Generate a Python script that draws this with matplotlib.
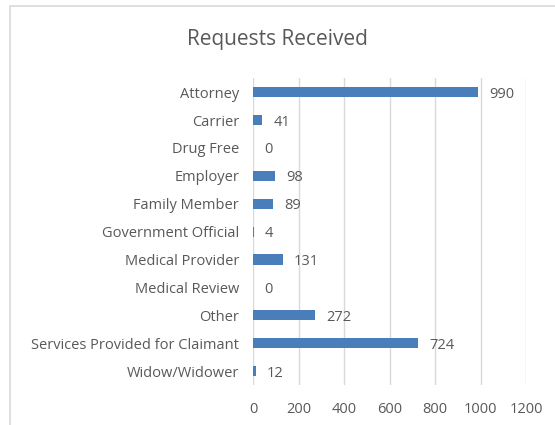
import numpy as np
import matplotlib.pyplot as plt
from matplotlib.patches import Rectangle

plt.rcParams['font.family'] = ['Open Sans', 'DejaVu Sans']

categories = ['Attorney', 'Carrier', 'Drug Free', 'Employer', 'Family Member',
              'Government Official', 'Medical Provider', 'Medical Review',
              'Other', 'Services Provided for Claimant', 'Widow/Widower']
requests = [990, 41, 0, 98, 89, 4, 131, 0, 272, 724, 12]
xticks = [0, 200, 400, 600, 800, 1000, 1200]

text_col = '#595959'
fig = plt.figure(figsize=(5.55, 4.25), dpi=100)
ax = fig.add_axes([0.456, 0.094, 0.492, 0.722])

# outer chart border (cut off on the right / bottom like the screenshot)
fig.patches.append(Rectangle((10 / 555, -0.05), 1.1, 1 - 6 / 425 + 0.05,
                             transform=fig.transFigure, fill=False,
                             edgecolor='#d9d9d9', lw=1.2))

y = np.arange(len(categories))
ax.barh(y, requests, height=0.36, color='#4a7ebb', zorder=3)
for yi, v in zip(y, requests):
    ax.annotate(str(v), (v, yi), xytext=(8, 0), textcoords='offset points',
                va='center_baseline', ha='left', fontsize=10.5, color=text_col)

ax.set_yticks(y)
ax.set_yticklabels(categories)
ax.set_ylim(len(categories) - 0.5, -0.5)
ax.set_xlim(0, 1200)
ax.set_xticks(xticks)
ax.grid(axis='x', color='#d9d9d9', lw=1, zorder=0)
for s in ax.spines.values():
    s.set_visible(False)
ax.tick_params(length=0, labelsize=10.5, colors=text_col, pad=10)
ax.tick_params(axis='x', pad=12)
fig.text(0.5, 1 - 40 / 425, 'Requests Received', ha='center', va='center',
         fontsize=15, color=text_col)

fig.savefig('out.png', dpi=100)
